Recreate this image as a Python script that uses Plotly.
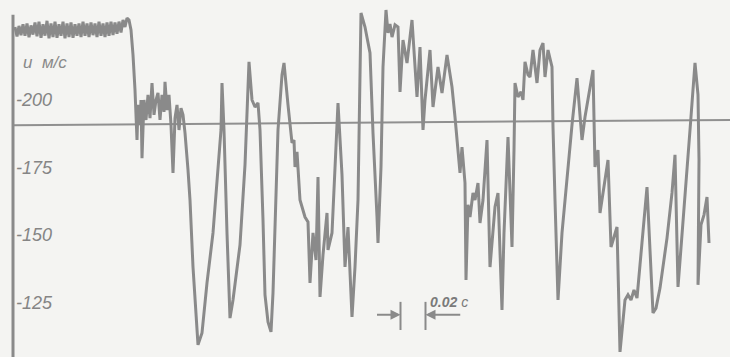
import plotly.graph_objects as go

# time in ms, velocity u in m/s
t_ms = [1.6, 3.2, 4.8, 6.4, 8.0, 9.6, 11.2, 12.8, 14.4, 16.0, 17.6, 19.2, 20.8, 22.4, 24.0, 25.6,
        27.2, 28.8, 30.4, 32.0, 33.6, 35.2, 36.8, 38.4, 40.0, 41.6, 43.2, 44.8, 46.4, 48.0, 49.6,
        51.2, 52.8, 54.4, 56.0, 57.6, 59.2, 60.8, 62.4, 64.0, 65.6, 67.2, 68.8, 70.4, 72.0, 73.6,
        75.2, 76.8, 78.4, 80.0, 81.6, 83.2, 84.8, 86.4, 88.0, 89.6, 91.2, 92.8,
        94.4, 96.0, 97.6, 98.4,
        99.2, 100.0, 101.6, 102.4, 103.2, 104.8, 106.4, 108.0, 109.6, 111.2, 112.8, 114.4, 116.0,
        117.6, 119.2, 120.8, 121.6, 123.2, 124.8, 126.4, 128.0, 129.6, 131.2, 132.8, 134.4, 136.0, 137.6,
        140.0, 141.6, 144.0, 146.4, 148.0, 151.2, 155.2, 160.0, 164.0, 166.4, 167.2, 168.8, 171.2,
        172.8, 173.6, 176.0, 181.6, 185.6, 187.2, 188.8, 191.2, 193.6, 196.0, 197.6, 200.0, 201.6,
        204.0, 206.4, 208.0, 209.6, 212.0, 215.2, 216.8, 220.0, 223.2, 224.8, 225.6, 227.2, 229.6,
        233.6, 236.0, 237.6, 240.0, 242.4, 244.0, 245.6, 248.0, 251.2, 252.0, 255.2, 257.6, 260.0,
        263.2, 265.6, 268.0, 271.2, 273.6, 276.0, 278.4, 281.6, 285.6, 288.0, 291.2, 292.0, 294.4,
        296.0, 298.4, 300.0, 301.6, 303.2, 305.6, 308.0, 309.6, 312.0, 315.2, 319.2, 323.2, 325.6,
        328.0, 329.6, 333.6, 336.0, 340.0, 343.2, 347.2, 351.2, 353.6, 356.0, 357.6, 359.2, 361.6,
        362.4, 364.0, 365.6, 368.0, 369.6, 372.0, 373.6, 376.0, 379.2, 381.6, 385.6, 388.0, 391.2,
        392.8, 396.0, 399.2, 400.8, 401.6, 404.0, 406.4, 408.0, 409.6, 412.0, 413.6, 416.0, 417.6,
        419.2, 421.6, 424.0, 425.6, 428.0, 431.2, 432.0, 433.6, 436.0, 439.2, 443.2, 447.2, 451.2,
        455.2, 457.6, 464.0, 465.6, 468.0, 469.6, 476.0, 478.4, 483.2, 485.6, 489.6, 492.0, 494.4,
        496.8, 499.2, 501.6, 507.2, 512.0, 514.4, 517.6, 523.2, 527.2, 529.6, 532.0, 537.6, 541.6,
        545.6, 548.0, 548.8, 548.0, 550.4, 552.8, 555.2, 556.8]
u_ms = [227.0, 223.5, 227.4, 224.0, 228.0, 223.8, 228.3, 223.2, 227.6, 224.2,
        228.7, 223.6, 229.0, 223.0, 228.0, 223.8, 229.3, 222.8, 228.3, 223.3,
        229.0, 223.0, 228.0, 223.8, 229.0, 222.8, 228.3, 223.3, 228.7, 223.0,
        228.0, 223.8, 228.3, 223.3, 229.0, 223.8, 228.3, 223.3, 228.7, 224.0,
        228.3, 223.3, 229.0, 223.8, 228.3, 223.3, 228.7, 223.8, 229.0, 224.0,
        228.7, 224.5, 229.0, 225.0, 229.6, 227.0, 230.3, 229.6,
        225.9, 216.7, 203.7, 196.3,
        185.2, 198.2, 190.8, 200.0, 178.5, 200.0, 192.6, 201.9, 193.3, 206.3, 194.5, 200.0, 202.6,
        192.6, 201.9, 195.6, 206.7, 196.3, 201.9, 190.8, 173.0, 193.3, 198.2, 188.9, 197.0, 194.5, 187.8,
        174.1, 163.0, 138.2, 118.6, 109.4, 113.8, 132.3, 150.8, 175.2, 188.9, 206.3, 188.9, 150.8,
        126.0, 119.3, 126.0, 146.4, 176.0, 196.3, 214.1, 200.0, 197.4, 198.9, 188.9, 155.6, 127.9,
        117.9, 114.2, 128.6, 155.6, 188.9, 209.3, 213.7, 198.2, 184.1, 185.2, 175.2, 180.8, 163.0,
        156.7, 154.9, 132.3, 150.8, 140.8, 171.5, 127.1, 142.7, 158.2, 144.5, 150.8, 175.2, 198.9,
        172.3, 138.2, 153.0, 119.7, 138.2, 163.0, 232.2, 227.0, 217.4, 187.8, 156.7, 147.1, 175.2,
        212.2, 233.3, 224.8, 228.1, 223.3, 227.8, 227.0, 203.0, 222.2, 213.7, 229.6, 201.1, 219.6,
        188.9, 200.0, 218.5, 197.4, 212.2, 202.6, 216.7, 204.8, 193.7, 181.5, 173.0, 182.6, 169.3,
        133.4, 161.2, 156.7, 165.6, 163.0, 169.3, 154.5, 163.0, 185.2, 138.2, 160.4, 165.6, 122.3,
        150.8, 186.3, 145.6, 181.5, 206.3, 201.1, 203.0, 200.0, 214.1, 209.3, 208.5, 218.5, 211.1,
        206.3, 218.5, 221.1, 208.5, 218.5, 212.2, 190.0, 163.0, 126.0, 150.8, 172.3, 190.8, 208.1,
        185.2, 193.7, 211.1, 175.2, 181.5, 158.2, 177.8, 145.6, 153.0, 106.8, 126.0, 127.9, 126.0,
        129.7, 126.7, 139.0, 167.8, 121.2, 123.0, 130.4, 148.9, 165.6, 179.7, 130.8, 163.0, 188.9,
        213.7, 201.9, 177.8, 131.6, 153.8, 157.5, 164.1, 147.1]

# horizontal reference level (slightly tilted in the original record)
ref_t = [0.0, 573.6]
ref_u = [190.7, 192.6]

tick_vals = [200, 175, 150, 125]
tick_text = ["-200", "-175", "-150", "-125"]

scale_t0, scale_t1 = 310.0, 330.0   # 0.02 s marker
scale_label = "<b>0.02</b> c"
axis_label = "u  м/с"

GRAY = "#8a8a8a"
BG = "#f4f4f2"
X_RANGE = [0, 573.6]
Y_RANGE = [104.9, 237.0]

fig = go.Figure()
fig.add_trace(go.Scatter(x=ref_t, y=ref_u, mode="lines",
                         line=dict(color="#909090", width=2), hoverinfo="skip"))
fig.add_trace(go.Scatter(x=t_ms, y=u_ms, mode="lines",
                         line=dict(color=GRAY, width=3), hoverinfo="skip"))

# y axis line (starts a bit below the top)
fig.add_shape(type="line", xref="paper", yref="y", x0=0, x1=0, y0=Y_RANGE[0], y1=231.5,
              line=dict(color=GRAY, width=3))

# scale marker
ybar0, ybar1, yarr = 114.9, 125.3, 120.5
for tb in (scale_t0, scale_t1):
    fig.add_shape(type="line", xref="x", yref="y", x0=tb, x1=tb, y0=ybar0, y1=ybar1,
                  line=dict(color=GRAY, width=2))
fig.add_annotation(x=scale_t0, y=yarr, ax=scale_t0 - 20, ay=yarr, xref="x", yref="y",
                   axref="x", ayref="y", showarrow=True, arrowhead=2, arrowsize=1,
                   arrowwidth=2, arrowcolor=GRAY, text="")
fig.add_annotation(x=scale_t1, y=yarr, ax=scale_t1 + 29, ay=yarr, xref="x", yref="y",
                   axref="x", ayref="y", showarrow=True, arrowhead=2, arrowsize=1,
                   arrowwidth=2, arrowcolor=GRAY, text="")
fig.add_annotation(x=scale_t1 + 2, y=yarr + 1.2, xref="x", yref="y", text=scale_label,
                   showarrow=False, xanchor="left", yanchor="bottom",
                   font=dict(family="Liberation Sans", size=14, color="#7a7a7a", style="italic"))
fig.add_annotation(x=6.0, y=214.0, xref="x", yref="y", text=axis_label, showarrow=False,
                   xanchor="left", yanchor="middle",
                   font=dict(family="Liberation Sans", size=17, color="#8a8a8a", style="italic"))

fig.update_layout(
    width=730, height=357, margin=dict(l=13, r=0, t=0, b=0),
    paper_bgcolor=BG, plot_bgcolor=BG, showlegend=False,
    xaxis=dict(range=X_RANGE, visible=False, showgrid=False, zeroline=False),
    yaxis=dict(range=Y_RANGE, showgrid=False, zeroline=False, showline=False,
               tickvals=tick_vals, ticktext=tick_text, ticks="",
               ticklabelposition="inside",
               tickfont=dict(family="Liberation Sans", size=18, color="#858585", style="italic")),
)
fig.write_html("out.html")
